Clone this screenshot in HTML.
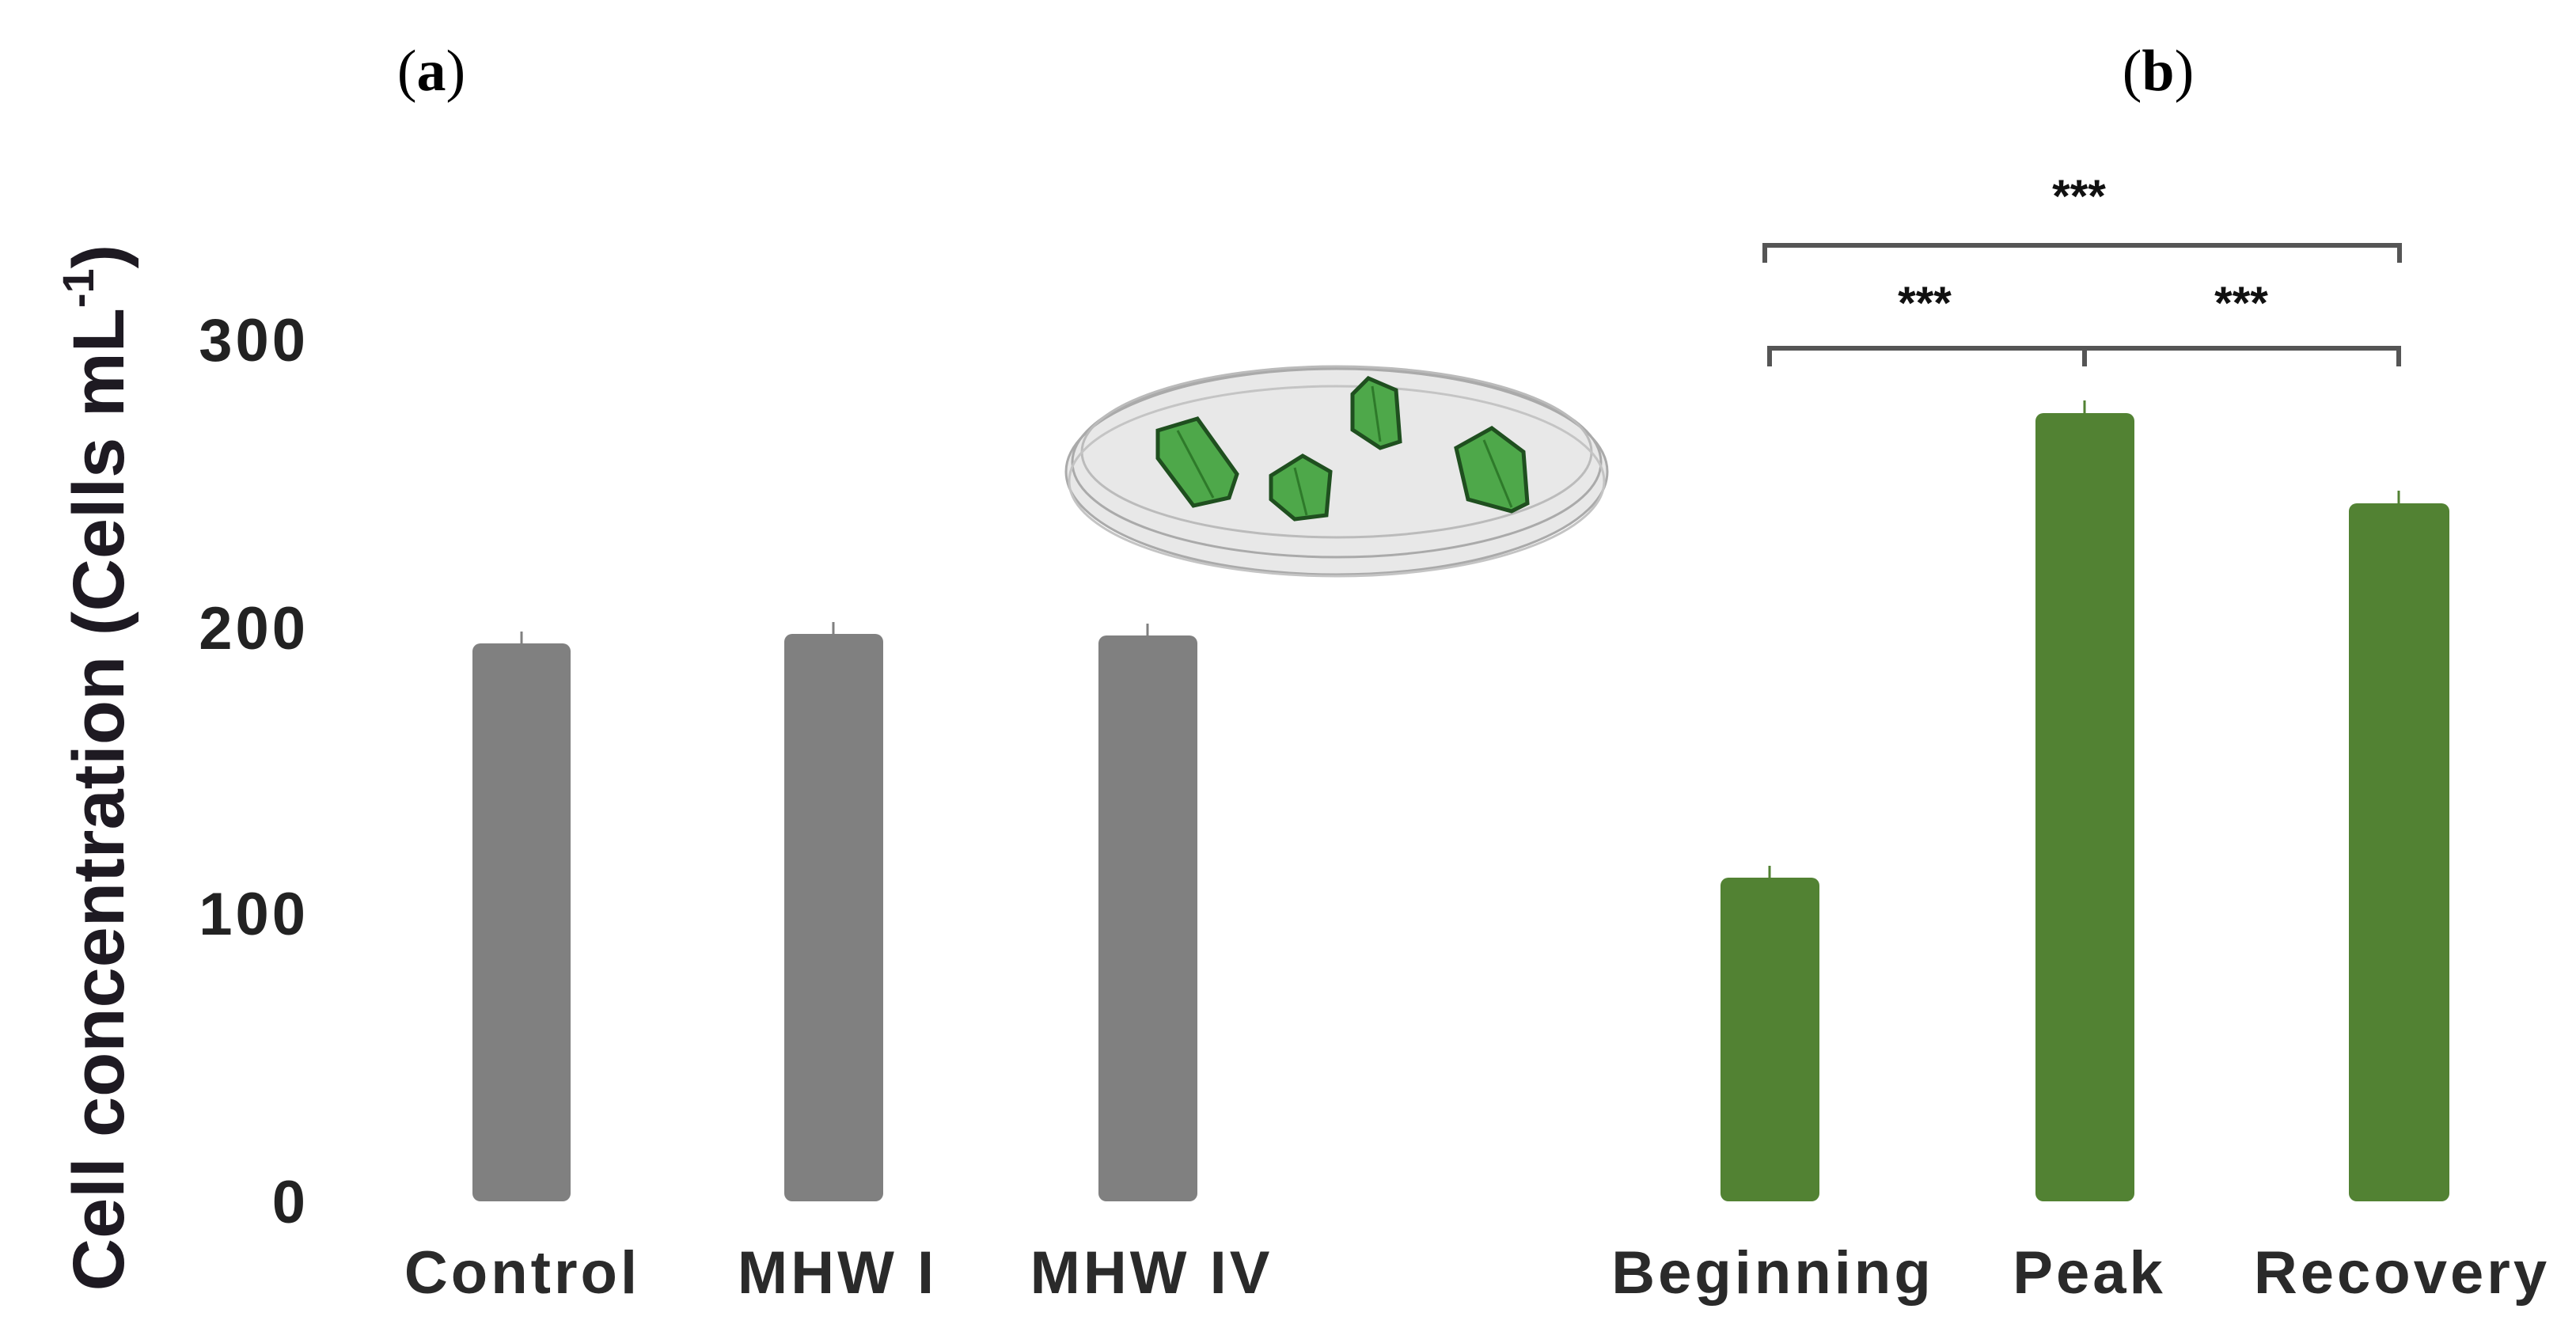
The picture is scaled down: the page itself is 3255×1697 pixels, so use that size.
<!DOCTYPE html>
<html><head><meta charset="utf-8"><style>
html,body{margin:0;padding:0;background:#fff;}
svg{display:block;}
</style></head><body>
<svg width="3255" height="1697" viewBox="0 0 3255 1697" xmlns="http://www.w3.org/2000/svg">
<rect width="3255" height="1697" fill="#fff"/>
<text x="545" y="114" font-family="Liberation Serif, serif" font-size="74" text-anchor="middle" fill="#000">(<tspan font-weight="bold">a</tspan>)</text>
<text x="2727" y="114" font-family="Liberation Serif, serif" font-size="74" text-anchor="middle" fill="#000">(<tspan font-weight="bold">b</tspan>)</text>
<text transform="translate(156,970) rotate(-90)" font-family="Liberation Sans, sans-serif" font-size="92" font-weight="bold" text-anchor="middle" fill="#1e1a22">Cell concentration (Cells mL<tspan font-size="56" dy="-38">-1</tspan><tspan dy="38">)</tspan></text>
<g font-family="Liberation Sans, sans-serif" font-size="76" font-weight="bold" fill="#222" text-anchor="end" letter-spacing="4">
<text x="390" y="456">300</text>
<text x="390" y="820">200</text>
<text x="390" y="1181">100</text>
<text x="390" y="1545">0</text>
</g>
<g fill="#808080">
<rect x="597" y="813" width="124" height="705" rx="10"/>
<rect x="991" y="801" width="125" height="717" rx="10"/>
<rect x="1388" y="803" width="125" height="715" rx="10"/>
</g>
<g stroke="#808080" stroke-width="3">
<line x1="659" y1="798" x2="659" y2="815"/>
<line x1="1053" y1="786" x2="1053" y2="803"/>
<line x1="1450" y1="788" x2="1450" y2="805"/>
</g>
<g fill="#528233">
<rect x="2174" y="1109" width="125" height="409" rx="10"/>
<rect x="2572" y="522" width="125" height="996" rx="10"/>
<rect x="2968" y="636" width="127" height="882" rx="10"/>
</g>
<g stroke="#528233" stroke-width="3">
<line x1="2236" y1="1094" x2="2236" y2="1111"/>
<line x1="2634" y1="506" x2="2634" y2="524"/>
<line x1="3031" y1="620" x2="3031" y2="638"/>
</g>
<g stroke="#555" stroke-width="6" fill="none">
<polyline points="2230,332 2230,310 3032,310 3032,332"/>
<polyline points="2236,463 2236,440 3031,440 3031,463"/>
<line x1="2634" y1="440" x2="2634" y2="463"/>
</g>
<g font-family="Liberation Sans, sans-serif" font-size="58" font-weight="bold" fill="#111" text-anchor="middle">
<text x="2627" y="268">***</text>
<text x="2432" y="403">***</text>
<text x="2832" y="403">***</text>
</g>
<g font-family="Liberation Sans, sans-serif" font-size="76" font-weight="bold" fill="#2a2a2a" text-anchor="middle" letter-spacing="4">
<text x="660" y="1634">Control</text>
<text x="1058" y="1634">MHW I</text>
<text x="1455" y="1634">MHW IV</text>
<text x="2240" y="1634">Beginning</text>
<text x="2640" y="1634">Peak</text>
<text x="3035" y="1634">Recovery</text>
</g>
<g transform="translate(-10,-4)">
<g fill="none" stroke="#aaa" stroke-width="3">
<ellipse cx="1699" cy="600" rx="342" ry="130" fill="#e8e8e8"/>
<ellipse cx="1699" cy="588" rx="334" ry="120"/>
<ellipse cx="1699" cy="575" rx="322" ry="108" stroke="#bbb"/>
<ellipse cx="1699" cy="612" rx="338" ry="120" stroke="#c4c4c4"/>
</g>
<g stroke="#1f4f1f" stroke-width="5" fill="#4ea84a">
<polygon points="1473,548 1523,533 1573,603 1563,633 1518,643 1473,583" />
<polygon points="1616,605 1656,580 1691,600 1686,655 1646,660 1616,635"/>
<polygon points="1719,502 1739,482 1774,497 1779,562 1754,570 1719,547"/>
<polygon points="1850,570 1895,545 1935,575 1940,640 1920,650 1865,635"/>
</g>
<g stroke="#2e7a2a" stroke-width="3">
<line x1="1498" y1="548" x2="1543" y2="633"/>
<line x1="1646" y1="595" x2="1661" y2="655"/>
<line x1="1744" y1="492" x2="1754" y2="562"/>
<line x1="1885" y1="560" x2="1920" y2="645"/>
</g>
</g>
</svg>
</body></html>
